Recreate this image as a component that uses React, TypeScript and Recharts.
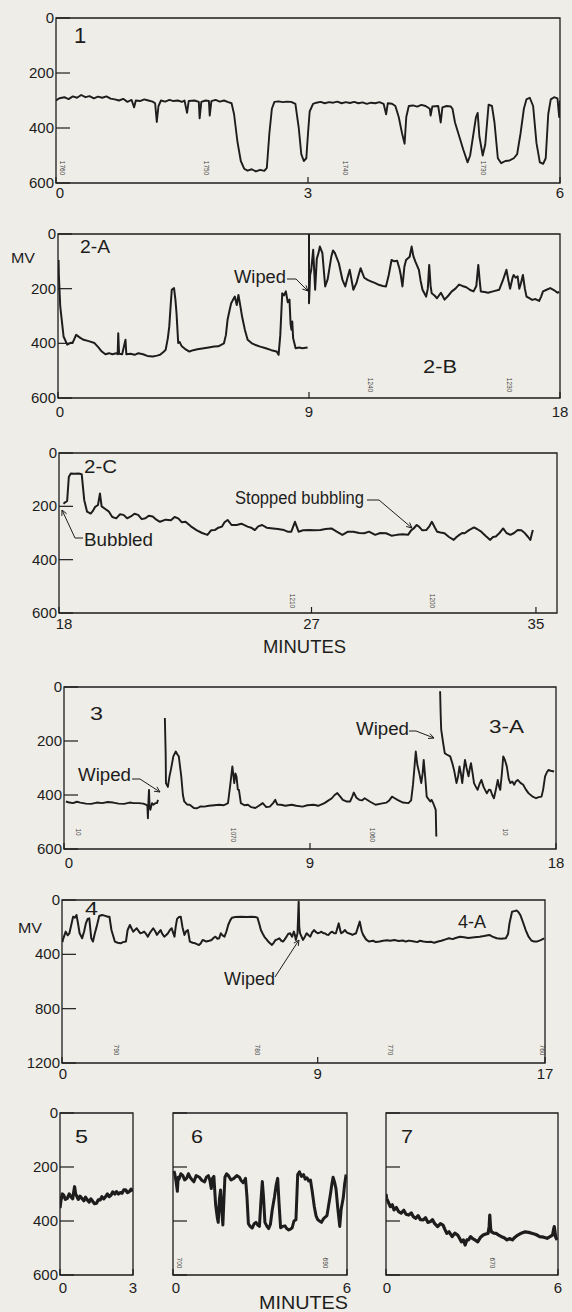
import React from "react";
import { LineChart, Line, XAxis, YAxis, ReferenceArea } from "recharts";

const INK = "#1d1d1d";
const PAPER = "#efede7";
const FONT = "'Liberation Sans', Arial, sans-serif";

// traces, [minutes, millivolts]
const trace1: [number, number][] = [
  [0, 300], [0.04, 292], [0.1, 288], [0.15, 295], [0.2, 285], [0.25, 290], [0.3, 280], [0.35, 288], [0.4, 284],
  [0.45, 292], [0.5, 286], [0.55, 290], [0.6, 285], [0.65, 293], [0.7, 296], [0.75, 300], [0.8, 294], [0.85, 305],
  [0.9, 298], [0.93, 325], [0.95, 300], [1.0, 302], [1.05, 296], [1.1, 300], [1.15, 304], [1.18, 310], [1.2, 378],
  [1.22, 320], [1.25, 300], [1.3, 304], [1.35, 298], [1.4, 302], [1.45, 300], [1.5, 305], [1.53, 300], [1.56, 345],
  [1.58, 302], [1.65, 300], [1.7, 305], [1.71, 365], [1.73, 305], [1.78, 300], [1.82, 302], [1.83, 355], [1.85, 302],
  [1.9, 298], [1.95, 304], [2.0, 300], [2.05, 306], [2.09, 310], [2.12, 350], [2.16, 450], [2.2, 520], [2.24, 548],
  [2.28, 555], [2.33, 550], [2.38, 558], [2.43, 552], [2.48, 556], [2.51, 545], [2.54, 420], [2.57, 330], [2.6, 305],
  [2.65, 303], [2.7, 306], [2.75, 304], [2.8, 305], [2.85, 312], [2.89, 400], [2.92, 495], [2.95, 520], [2.98, 510],
  [3.0, 420], [3.02, 340], [3.06, 312], [3.1, 308], [3.15, 305], [3.2, 310], [3.25, 306], [3.3, 308], [3.35, 304],
  [3.4, 310], [3.45, 306], [3.5, 309], [3.55, 305], [3.6, 310], [3.65, 307], [3.7, 312], [3.75, 308], [3.8, 310],
  [3.85, 306], [3.9, 312], [3.93, 350], [3.95, 310], [4.0, 312], [4.04, 320], [4.08, 360], [4.12, 420], [4.15, 457],
  [4.17, 360], [4.2, 320], [4.25, 318], [4.3, 322], [4.35, 316], [4.4, 320], [4.45, 330], [4.46, 355], [4.48, 322],
  [4.55, 320], [4.58, 380], [4.6, 325], [4.65, 320], [4.7, 322], [4.72, 330], [4.75, 380], [4.8, 430], [4.85, 480],
  [4.9, 525], [4.93, 500], [4.97, 420], [5.0, 360], [5.02, 345], [5.04, 430], [5.08, 500], [5.11, 460], [5.15, 315],
  [5.19, 320], [5.22, 380], [5.26, 510], [5.3, 528], [5.35, 520], [5.4, 518], [5.45, 510], [5.49, 495], [5.53, 420],
  [5.57, 330], [5.6, 296], [5.64, 290], [5.68, 320], [5.72, 455], [5.76, 525], [5.8, 530], [5.83, 510], [5.86, 350],
  [5.89, 296], [5.93, 288], [5.97, 292], [5.99, 360], [6.0, 300],
];

const trace2A: [number, number][] = [
  [0.02, 95], [0.03, 150], [0.08, 265], [0.2, 375], [0.33, 405], [0.45, 398], [0.52, 399], [0.65, 369], [0.8, 380],
  [0.92, 387], [1.1, 392], [1.31, 399], [1.45, 415], [1.57, 430], [1.7, 440], [1.83, 436], [1.95, 440], [2.09, 436],
  [2.14, 440], [2.16, 363], [2.19, 438], [2.3, 440], [2.42, 387], [2.45, 440], [2.6, 438], [2.75, 442], [2.88, 436],
  [3.05, 440], [3.2, 446], [3.4, 448], [3.55, 445], [3.66, 442], [3.78, 432], [3.86, 424], [3.94, 380], [3.99, 338],
  [4.04, 260], [4.08, 204], [4.16, 198], [4.21, 240], [4.25, 290], [4.31, 399], [4.36, 395], [4.44, 411], [4.55, 420],
  [4.71, 430], [4.85, 425], [5.0, 422], [5.23, 418], [5.4, 415], [5.6, 412], [5.75, 411], [5.95, 400], [6.02, 370],
  [6.08, 314], [6.15, 280], [6.21, 253], [6.28, 240], [6.34, 229], [6.41, 260], [6.47, 223], [6.55, 270], [6.6, 302],
  [6.7, 350], [6.8, 387], [6.95, 400], [7.06, 405], [7.25, 412], [7.45, 418], [7.65, 425], [7.84, 430], [7.91, 442],
  [7.97, 370], [8.04, 217], [8.1, 225], [8.17, 210], [8.24, 250], [8.3, 240], [8.34, 330], [8.37, 350], [8.4, 320],
  [8.43, 380], [8.52, 418], [8.65, 415], [8.76, 418], [8.95, 415],
];

const trace2B: [number, number][] = [
  [9.0, 0], [9.0, 253], [9.04, 150], [9.08, 131], [9.15, 58], [9.22, 204], [9.28, 90], [9.34, 70], [9.39, 46],
  [9.48, 70], [9.58, 192], [9.67, 165], [9.8, 83], [9.86, 60], [9.93, 70], [10.07, 107], [10.2, 168], [10.3, 192],
  [10.38, 160], [10.46, 131], [10.59, 204], [10.7, 180], [10.78, 150], [10.85, 125], [10.98, 160], [11.1, 168],
  [11.24, 174], [11.38, 180], [11.5, 186], [11.65, 190], [11.76, 192], [11.86, 150], [11.96, 95], [12.06, 100],
  [12.16, 98], [12.24, 125], [12.29, 150], [12.35, 192], [12.42, 120], [12.48, 95], [12.61, 83], [12.68, 46],
  [12.74, 80], [12.81, 100], [12.94, 131], [13.0, 170], [13.07, 204], [13.2, 229], [13.26, 200], [13.31, 113],
  [13.36, 190], [13.4, 217], [13.5, 225], [13.59, 235], [13.73, 215], [13.86, 240], [14.0, 225], [14.12, 210],
  [14.25, 200], [14.38, 185], [14.5, 190], [14.64, 195], [14.78, 205], [14.9, 210], [15.0, 190], [15.07, 113],
  [15.12, 170], [15.16, 210], [15.3, 212], [15.42, 215], [15.6, 210], [15.82, 204], [15.95, 170], [16.08, 131],
  [16.15, 170], [16.21, 200], [16.3, 160], [16.34, 150], [16.41, 160], [16.48, 155], [16.54, 200], [16.6, 180],
  [16.67, 150], [16.74, 200], [16.8, 229], [16.9, 235], [17.0, 241], [17.12, 238], [17.25, 245], [17.32, 230],
  [17.39, 210], [17.5, 205], [17.65, 198], [17.78, 205], [17.91, 215], [17.97, 212],
];

const trace2C: [number, number][] = [
  [18.16, 190], [18.22, 185], [18.29, 180], [18.35, 90], [18.42, 77], [18.55, 78], [18.7, 77], [18.81, 80],
  [18.9, 177], [19.0, 220], [19.13, 227], [19.22, 215], [19.29, 202], [19.39, 195], [19.46, 152], [19.52, 200],
  [19.65, 210], [19.78, 220], [19.9, 240], [20.04, 245], [20.17, 230], [20.3, 232], [20.43, 245], [20.56, 238],
  [20.69, 228], [20.82, 232], [20.95, 248], [21.08, 245], [21.2, 235], [21.34, 238], [21.47, 250], [21.6, 258],
  [21.8, 250], [21.99, 252], [22.12, 240], [22.25, 245], [22.38, 260], [22.51, 258], [22.7, 275], [22.9, 289],
  [23.1, 300], [23.29, 307], [23.42, 290], [23.55, 289], [23.68, 280], [23.81, 276], [23.9, 260], [24.01, 251],
  [24.15, 270], [24.33, 270], [24.5, 265], [24.72, 276], [24.85, 280], [24.98, 289], [25.1, 275], [25.24, 270],
  [25.4, 280], [25.63, 283], [25.8, 285], [26.02, 289], [26.15, 295], [26.28, 295], [26.41, 258], [26.54, 295],
  [26.7, 290], [26.93, 289], [27.1, 290], [27.32, 289], [27.5, 285], [27.71, 283], [27.9, 295], [28.1, 307],
  [28.3, 295], [28.49, 295], [28.7, 300], [28.88, 301], [29.05, 295], [29.27, 307], [29.45, 300], [29.66, 301],
  [29.85, 310], [30.05, 307], [30.25, 305], [30.44, 307], [30.55, 290], [30.64, 283], [30.75, 270], [30.83, 276],
  [30.95, 290], [31.09, 289], [31.2, 275], [31.29, 258], [31.4, 280], [31.48, 295], [31.6, 298], [31.74, 301],
  [31.9, 315], [32.07, 326], [32.17, 315], [32.27, 307], [32.37, 300], [32.46, 301], [32.6, 290], [32.79, 279],
  [32.9, 285], [33.05, 295], [33.2, 310], [33.37, 326], [33.47, 315], [33.57, 313], [33.7, 300], [33.83, 283],
  [33.95, 300], [34.09, 307], [34.22, 300], [34.35, 289], [34.48, 290], [34.61, 301], [34.72, 315], [34.8, 326],
  [34.86, 300], [34.89, 289],
];

const trace3: [number, number | null][] = [
  [0.07, 424], [0.2, 428], [0.33, 430], [0.47, 425], [0.6, 428], [0.8, 432], [1.0, 433], [1.2, 428], [1.4, 430],
  [1.6, 426], [1.8, 428], [2.0, 432], [2.2, 433], [2.4, 428], [2.55, 430], [2.73, 430], [2.9, 432], [3.0, 436],
  [3.05, 440], [3.07, 486], [3.09, 420], [3.11, 381], [3.13, 440], [3.16, 455], [3.22, 430], [3.27, 436], [3.35, 430],
  [3.4, 430], [3.44, 418], [3.55, null], [3.69, 115], [3.72, 250], [3.73, 356], [3.8, 370], [3.86, 330], [3.91, 307],
  [4.0, 257], [4.09, 239], [4.15, 250], [4.2, 257], [4.29, 331], [4.35, 400], [4.4, 424], [4.5, 435], [4.6, 436],
  [4.75, 448], [4.87, 449], [5.0, 442], [5.13, 443], [5.3, 440], [5.5, 438], [5.67, 436], [5.85, 438], [6.0, 430],
  [6.09, 356], [6.16, 294], [6.2, 330], [6.23, 356], [6.27, 320], [6.31, 331], [6.36, 380], [6.4, 381], [6.47, 430],
  [6.6, 438], [6.73, 436], [6.85, 445], [7.0, 448], [7.13, 440], [7.27, 430], [7.4, 445], [7.53, 443], [7.65, 430],
  [7.73, 418], [7.8, 435], [7.93, 436], [8.1, 440], [8.33, 436], [8.5, 440], [8.73, 443], [8.9, 438], [9.13, 436],
  [9.3, 440], [9.53, 430], [9.68, 420], [9.8, 412], [9.9, 400], [10.0, 393], [10.1, 405], [10.2, 418], [10.33, 424],
  [10.47, 424], [10.55, 405], [10.6, 391], [10.7, 410], [10.8, 418], [10.9, 420], [11.0, 412], [11.2, 425],
  [11.4, 436], [11.6, 432], [11.8, 428], [11.9, 420], [12.0, 406], [12.1, 412], [12.2, 418], [12.4, 428], [12.6, 430],
  [12.7, 420], [12.77, 360], [12.87, 239], [12.93, 290], [13.0, 320], [13.07, 356], [13.12, 320], [13.16, 270],
  [13.22, 340], [13.27, 406], [13.4, 424], [13.45, 418], [13.53, 436], [13.6, 455], [13.62, 550], [13.63, 554],
];

const trace3A: [number, number][] = [
  [13.76, 16], [13.78, 100], [13.8, 158], [13.86, 200], [13.93, 245], [14.0, 250], [14.13, 257], [14.2, 280],
  [14.27, 307], [14.36, 356], [14.42, 330], [14.47, 294], [14.52, 320], [14.57, 356], [14.62, 310], [14.67, 270],
  [14.73, 300], [14.8, 331], [14.85, 300], [14.89, 282], [14.95, 320], [15.0, 356], [15.07, 370], [15.13, 381],
  [15.2, 360], [15.27, 344], [15.35, 370], [15.47, 394], [15.55, 380], [15.6, 381], [15.67, 400], [15.73, 412],
  [15.8, 380], [15.87, 344], [15.92, 370], [15.96, 381], [16.02, 320], [16.07, 257], [16.13, 270], [16.2, 294],
  [16.27, 340], [16.33, 356], [16.4, 350], [16.47, 362], [16.53, 350], [16.6, 344], [16.7, 355], [16.8, 362],
  [16.9, 380], [17.0, 394], [17.13, 405], [17.27, 412], [17.37, 408], [17.47, 406], [17.53, 380], [17.6, 331],
  [17.67, 315], [17.73, 307], [17.8, 310], [17.93, 313],
];

const trace4: [number, number][] = [
  [0.02, 310], [0.03, 294], [0.13, 233], [0.2, 260], [0.26, 245], [0.33, 180], [0.39, 123], [0.45, 130], [0.51, 110],
  [0.57, 180], [0.62, 245], [0.71, 282], [0.78, 230], [0.84, 172], [0.9, 140], [0.96, 135], [1.03, 282], [1.09, 306],
  [1.15, 250], [1.22, 196], [1.31, 118], [1.41, 110], [1.5, 115], [1.61, 123], [1.67, 123], [1.74, 221], [1.86, 306],
  [1.96, 315], [2.06, 319], [2.15, 310], [2.25, 306], [2.31, 221], [2.39, 184], [2.45, 210], [2.51, 233], [2.57, 220],
  [2.63, 208], [2.7, 230], [2.76, 245], [2.83, 240], [2.89, 233], [2.96, 250], [3.02, 270], [3.1, 240], [3.21, 208],
  [3.28, 230], [3.34, 257], [3.4, 240], [3.47, 221], [3.53, 250], [3.6, 270], [3.66, 260], [3.73, 245], [3.8, 220],
  [3.86, 208], [3.91, 240], [3.96, 270], [4.0, 200], [4.05, 139], [4.12, 125], [4.18, 123], [4.24, 200], [4.31, 257],
  [4.37, 230], [4.43, 221], [4.5, 306], [4.6, 315], [4.69, 319], [4.75, 325], [4.82, 331], [4.88, 320], [4.95, 294],
  [5.02, 300], [5.08, 306], [5.18, 300], [5.27, 294], [5.33, 280], [5.4, 270], [5.47, 285], [5.53, 282], [5.59, 245],
  [5.65, 260], [5.72, 270], [5.79, 230], [5.85, 184], [5.92, 150], [5.98, 130], [6.1, 125], [6.3, 123], [6.5, 125],
  [6.68, 123], [6.8, 125], [6.88, 130], [6.95, 180], [7.0, 221], [7.07, 250], [7.13, 273], [7.2, 290], [7.26, 306],
  [7.33, 320], [7.39, 331], [7.45, 315], [7.52, 294], [7.58, 290], [7.65, 282], [7.72, 300], [7.78, 306], [7.84, 290],
  [7.9, 270], [7.96, 250], [8.03, 245], [8.1, 270], [8.16, 233], [8.2, 260], [8.23, 294], [8.29, 245], [8.33, 12],
  [8.35, 200], [8.38, 245], [8.43, 270], [8.48, 294], [8.55, 270], [8.61, 245], [8.68, 260], [8.74, 270], [8.8, 240],
  [8.87, 221], [8.93, 235], [9.0, 245], [9.07, 240], [9.13, 233], [9.2, 245], [9.25, 245], [9.32, 255], [9.38, 257],
  [9.45, 240], [9.51, 233], [9.58, 245], [9.64, 245], [9.74, 172], [9.8, 230], [9.83, 245], [9.9, 235], [9.96, 221],
  [10.03, 240], [10.09, 245], [10.16, 250], [10.22, 257], [10.29, 250], [10.35, 245], [10.48, 159], [10.55, 230],
  [10.6, 257], [10.7, 290], [10.8, 306], [10.95, 300], [11.05, 310], [11.18, 306], [11.3, 300], [11.45, 296],
  [11.55, 300], [11.7, 294], [11.85, 302], [12.0, 298], [12.1, 306], [12.21, 299], [12.35, 304], [12.5, 310],
  [12.6, 300], [12.72, 306], [12.85, 310], [13.0, 308], [13.1, 315], [13.24, 306], [13.35, 300], [13.5, 290],
  [13.62, 282], [13.75, 288], [13.85, 280], [14.01, 270], [14.15, 275], [14.3, 280], [14.52, 274], [14.7, 270],
  [14.85, 265], [15.04, 257], [15.15, 270], [15.3, 282], [15.45, 285], [15.62, 282], [15.7, 250], [15.75, 172],
  [15.84, 86], [15.92, 82], [16.0, 78], [16.07, 90], [16.13, 110], [16.22, 160], [16.32, 221], [16.42, 270],
  [16.52, 298], [16.62, 306], [16.71, 306], [16.85, 295], [16.97, 282],
];

const trace5: [number, number][] = [
  [0.0, 352], [0.04, 322], [0.1, 300], [0.15, 304], [0.22, 320], [0.3, 316], [0.38, 300], [0.45, 310], [0.52, 318],
  [0.6, 273], [0.64, 300], [0.67, 304], [0.75, 320], [0.82, 308], [0.9, 316], [0.98, 325], [1.05, 312], [1.12, 322],
  [1.2, 330], [1.27, 318], [1.35, 328], [1.42, 336], [1.5, 334], [1.57, 322], [1.65, 322], [1.72, 310], [1.8, 318],
  [1.87, 310], [1.95, 300], [2.02, 310], [2.1, 304], [2.17, 292], [2.25, 300], [2.32, 291], [2.4, 300], [2.47, 295],
  [2.55, 297], [2.62, 285], [2.7, 285], [2.77, 295], [2.85, 291], [2.92, 282], [2.97, 291],
];

const trace6: [number, number][] = [
  [0.03, 215], [0.06, 225], [0.1, 250], [0.15, 290], [0.18, 238], [0.21, 245], [0.27, 225], [0.34, 232], [0.4, 248],
  [0.47, 242], [0.53, 225], [0.59, 238], [0.66, 248], [0.72, 255], [0.8, 232], [0.91, 238], [1.0, 250], [1.09, 255],
  [1.15, 238], [1.22, 232], [1.27, 248], [1.32, 280], [1.36, 242], [1.41, 235], [1.47, 340], [1.53, 390], [1.56, 405],
  [1.6, 320], [1.64, 285], [1.68, 360], [1.72, 415], [1.76, 310], [1.79, 238], [1.85, 225], [1.91, 232], [2.0, 248],
  [2.1, 242], [2.2, 232], [2.29, 238], [2.35, 250], [2.42, 258], [2.5, 242], [2.55, 310], [2.6, 410], [2.66, 420],
  [2.73, 426], [2.8, 410], [2.86, 405], [2.92, 415], [2.98, 420], [3.03, 330], [3.08, 254], [3.12, 310], [3.17, 405],
  [3.24, 420], [3.3, 428], [3.36, 412], [3.42, 360], [3.5, 310], [3.56, 265], [3.61, 242], [3.66, 340], [3.71, 425],
  [3.78, 420], [3.86, 418], [3.92, 428], [3.99, 433], [4.05, 430], [4.11, 425], [4.17, 400], [4.24, 395], [4.3, 228],
  [4.36, 218], [4.43, 235], [4.5, 228], [4.56, 245], [4.62, 240], [4.68, 252], [4.74, 248], [4.8, 290], [4.87, 345],
  [4.93, 380], [4.99, 395], [5.05, 400], [5.12, 405], [5.2, 390], [5.31, 380], [5.37, 340], [5.43, 300], [5.48, 262],
  [5.52, 238], [5.57, 255], [5.62, 280], [5.68, 350], [5.75, 420], [5.8, 355], [5.87, 315], [5.92, 262], [5.97, 228],
];

const trace7: [number, number][] = [
  [0.0, 300], [0.02, 316], [0.08, 330], [0.15, 347], [0.22, 340], [0.28, 359], [0.36, 350], [0.44, 365], [0.53, 371],
  [0.62, 360], [0.7, 375], [0.79, 378], [0.88, 370], [0.96, 385], [1.04, 390], [1.12, 380], [1.2, 395], [1.3, 396],
  [1.38, 388], [1.46, 405], [1.55, 402], [1.62, 395], [1.7, 410], [1.8, 421], [1.9, 410], [1.99, 415], [2.05, 430],
  [2.12, 446], [2.2, 440], [2.31, 458], [2.4, 445], [2.5, 452], [2.57, 465], [2.63, 477], [2.7, 470], [2.76, 489],
  [2.82, 470], [2.88, 470], [2.95, 458], [3.01, 464], [3.1, 470], [3.2, 477], [3.3, 460], [3.39, 452], [3.48, 448],
  [3.56, 446], [3.6, 420], [3.62, 378], [3.65, 430], [3.68, 440], [3.76, 445], [3.84, 446], [3.93, 452], [4.03, 458],
  [4.12, 462], [4.22, 470], [4.32, 465], [4.41, 470], [4.5, 460], [4.6, 452], [4.72, 445], [4.85, 440], [4.98, 442],
  [5.11, 446], [5.23, 450], [5.36, 458], [5.5, 460], [5.62, 464], [5.72, 458], [5.81, 452], [5.85, 430], [5.87, 421],
  [5.92, 460], [5.97, 470],
];

const mvTicks = [0, 200, 400, 600];
const mvTicks4 = [0, 400, 800, 1200];

// chart-recorder marks printed along the strips
const stripMarks: [string, number, number][] = [
  ["1760", 62, 168], ["1750", 206, 168], ["1740", 345, 168], ["1730", 483, 168],
  ["1240", 370, 385], ["1230", 509, 385],
  ["1210", 292, 601], ["1200", 432, 601],
  ["10", 78, 832], ["1070", 233, 835], ["1060", 372, 835], ["10", 505, 832],
  ["790", 116, 1050], ["780", 257, 1050], ["770", 390, 1050], ["760", 542, 1050],
  ["700", 179, 1263], ["690", 325, 1263], ["670", 492, 1263],
];

type Series = { data: [number, number | null][]; width: number };

type PanelProps = {
  left: number; right: number; top: number; bottom: number;
  xDomain: [number, number]; xTicks: number[];
  yDomain: [number, number]; yTicks: number[];
  yLabels?: boolean; xDy: number; firstDx?: number;
  series: Series[];
};

const rows = (d: [number, number | null][]) => d.map(([t, v]) => ({ t, v }));

function Panel(p: PanelProps) {
  const padL = 50, padR = 14, padT = 10, padB = 30;
  const w = p.right - p.left + padL + padR;
  const h = p.bottom - p.top + padT + padB;
  const showY = p.yLabels !== false;

  const yTick = (props: any) => {
    const { x, y, payload } = props;
    return (
      <g>
        {showY && (
          <text x={x - 2} y={y} dy={5} textAnchor="end" fontSize={15} fill={INK} fontFamily={FONT}>
            {payload.value}
          </text>
        )}
        <line x1={x} x2={x + 14} y1={y} y2={y} stroke={INK} strokeWidth={1.2} />
      </g>
    );
  };

  const xTick = (props: any) => {
    const { x, y, payload } = props;
    const dx = payload.value === p.xTicks[0] ? p.firstDx ?? 3 : 0;
    return (
      <g>
        <text x={x + dx} y={y + p.xDy} textAnchor="middle" fontSize={15} fill={INK} fontFamily={FONT}>
          {payload.value}
        </text>
        <line x1={x} x2={x} y1={y} y2={y - 6} stroke={INK} strokeWidth={1.2} />
      </g>
    );
  };

  return (
    <div style={{ position: "absolute", left: p.left - padL, top: p.top - padT }}>
      <LineChart width={w} height={h} margin={{ top: padT, right: padR, left: 0, bottom: 0 }}>
        <XAxis dataKey="t" type="number" domain={p.xDomain} ticks={p.xTicks} allowDataOverflow
          height={padB} axisLine={false} tickSize={0} tickMargin={0} tick={xTick} interval={0} />
        <YAxis type="number" domain={p.yDomain} ticks={p.yTicks} reversed allowDataOverflow
          width={padL} axisLine={false} tickSize={0} tickMargin={0} tick={yTick} interval={0} />
        <ReferenceArea x1={p.xDomain[0]} x2={p.xDomain[1]} y1={p.yDomain[0]} y2={p.yDomain[1]}
          fill="none" fillOpacity={0} stroke={INK} strokeWidth={1.3} />
        {p.series.map((s, i) => (
          <Line key={i} data={rows(s.data)} dataKey="v" type="linear" dot={false} stroke={INK}
            strokeWidth={s.width} strokeLinejoin="round" connectNulls={false} isAnimationActive={false} />
        ))}
      </LineChart>
    </div>
  );
}

function Arrow({ pts }: { pts: [number, number][] }) {
  const [x2, y2] = pts[pts.length - 1];
  const [x1, y1] = pts[pts.length - 2];
  const a = Math.atan2(y2 - y1, x2 - x1);
  const head = (da: number) => `${x2 - 6 * Math.cos(a + da)},${y2 - 6 * Math.sin(a + da)}`;
  return (
    <g stroke={INK} strokeWidth={1} fill="none">
      <polyline points={pts.map((q) => q.join(",")).join(" ")} />
      <polyline points={`${head(0.45)} ${x2},${y2} ${head(-0.45)}`} />
    </g>
  );
}

function Label({ x, y, size, len, children }: { x: number; y: number; size: number; len?: number; children: string }) {
  return (
    <text x={x} y={y} fontSize={size} fill={INK} fontFamily={FONT}
      textLength={len} lengthAdjust={len ? "spacingAndGlyphs" : undefined}>
      {children}
    </text>
  );
}

export default function App() {
  return (
    <div style={{ position: "absolute", left: 0, top: 0, width: 572, height: 1312, background: PAPER, overflow: "hidden" }}>
      <Panel left={56} right={560} top={18} bottom={183} xDomain={[0, 6]} xTicks={[0, 3, 6]} firstDx={4}
        yDomain={[0, 600]} yTicks={mvTicks} xDy={15} series={[{ data: trace1, width: 1.9 }]} />
      <Panel left={58} right={560} top={234} bottom={398} xDomain={[0, 18]} xTicks={[0, 9, 18]} firstDx={2}
        yDomain={[0, 600]} yTicks={mvTicks} xDy={19}
        series={[{ data: trace2A, width: 2 }, { data: trace2B, width: 2 }]} />
      <Panel left={59} right={557} top={453} bottom={613} xDomain={[18, 35.75]} xTicks={[18, 27, 35]} firstDx={5}
        yDomain={[0, 600]} yTicks={mvTicks} xDy={16} series={[{ data: trace2C, width: 2 }]} />
      <Panel left={64} right={556} top={687} bottom={849} xDomain={[0, 18]} xTicks={[0, 9, 18]} firstDx={5}
        yDomain={[0, 600]} yTicks={mvTicks} xDy={19}
        series={[{ data: trace3, width: 1.9 }, { data: trace3A, width: 1.9 }]} />
      <Panel left={62} right={545} top={900} bottom={1063} xDomain={[0, 17]} xTicks={[0, 9, 17]} firstDx={1}
        yDomain={[0, 1200]} yTicks={mvTicks4} xDy={16} series={[{ data: trace4, width: 2 }]} />
      <Panel left={60} right={133} top={1113} bottom={1275} xDomain={[0, 3]} xTicks={[0, 3]} firstDx={3}
        yDomain={[0, 600]} yTicks={mvTicks} xDy={18} series={[{ data: trace5, width: 3.2 }]} />
      <Panel left={173} right={347} top={1113} bottom={1275} xDomain={[0, 6]} xTicks={[0, 6]} firstDx={3}
        yDomain={[0, 600]} yTicks={mvTicks} yLabels={false} xDy={18} series={[{ data: trace6, width: 3 }]} />
      <Panel left={386} right={558} top={1113} bottom={1275} xDomain={[0, 6]} xTicks={[0, 6]} firstDx={1}
        yDomain={[0, 600]} yTicks={mvTicks} yLabels={false} xDy={18} series={[{ data: trace7, width: 3.2 }]} />

      <svg width={572} height={1312} style={{ position: "absolute", left: 0, top: 0, pointerEvents: "none" }}>
        <Label x={74} y={43} size={22}>1</Label>

        <Label x={11} y={263} size={15} len={24}>MV</Label>
        <Label x={80} y={253} size={18} len={30}>2-A</Label>
        <Label x={234} y={283} size={18} len={52}>Wiped</Label>
        <Arrow pts={[[287, 279], [296, 279], [308, 291]]} />
        <Label x={423} y={373} size={18} len={34}>2-B</Label>

        <Label x={84} y={473} size={18} len={33}>2-C</Label>
        <Label x={84} y={546} size={19} len={69}>Bubbled</Label>
        <Arrow pts={[[83, 538], [75, 538], [62, 510]]} />
        <Label x={235} y={504} size={18} len={129}>Stopped bubbling</Label>
        <Arrow pts={[[367, 500], [379, 500], [412, 528]]} />
        <Label x={263} y={653} size={18} len={83}>MINUTES</Label>

        <Label x={90} y={720} size={18} len={13}>3</Label>
        <Label x={489} y={733} size={18} len={35}>3-A</Label>
        <Label x={78} y={781} size={18} len={53}>Wiped</Label>
        <Arrow pts={[[132, 779], [140, 779], [160, 792]]} />
        <Label x={356} y={735} size={18} len={53}>Wiped</Label>
        <Arrow pts={[[409, 731], [416, 731], [434, 738]]} />

        <Label x={18} y={933} size={15} len={24}>MV</Label>
        <Label x={85} y={915} size={18} len={13}>4</Label>
        <Label x={458} y={928} size={18} len={28}>4-A</Label>
        <Label x={224} y={985} size={18} len={51}>Wiped</Label>
        <Arrow pts={[[275, 977], [299, 940]]} />

        <Label x={75} y={1143} size={18} len={13}>5</Label>
        <Label x={191} y={1143} size={18} len={12}>6</Label>
        <Label x={401} y={1143} size={18} len={12}>7</Label>
        <Label x={259} y={1309} size={18} len={89}>MINUTES</Label>

        {stripMarks.map(([s, x, y], i) => (
          <text key={i} transform={`translate(${x},${y}) rotate(90)`} textAnchor="middle" dy={2}
            fontSize={6.5} fill="#444" fontFamily={FONT}>{s}</text>
        ))}
      </svg>
    </div>
  );
}
